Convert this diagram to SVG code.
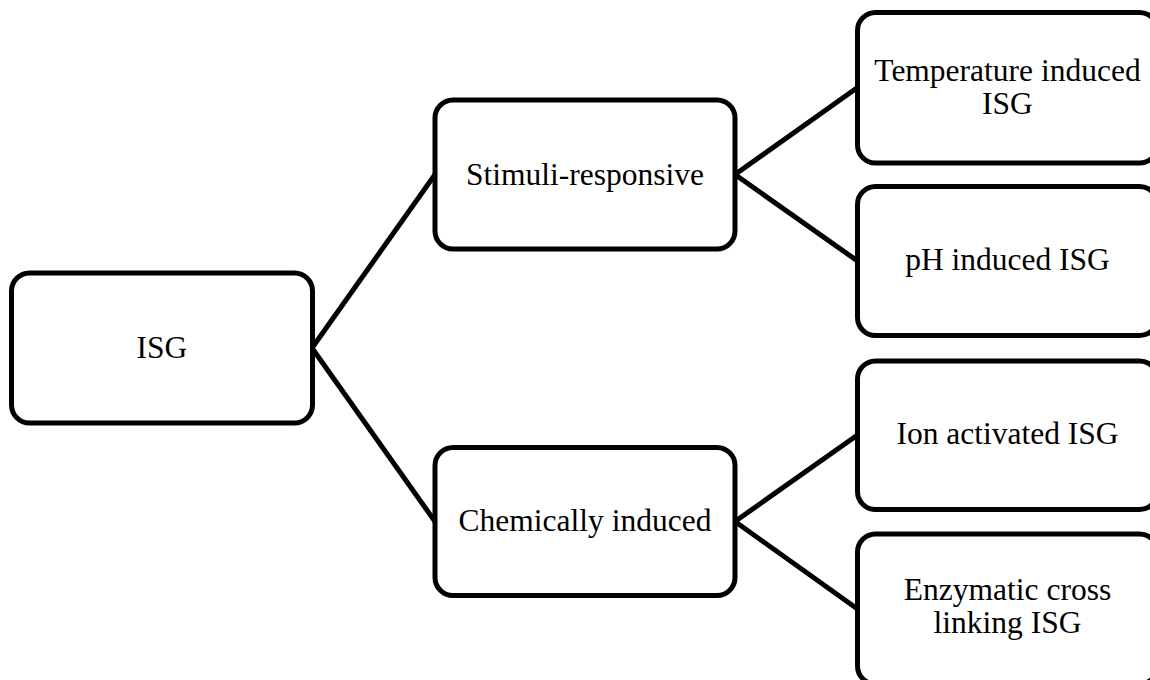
<svg xmlns="http://www.w3.org/2000/svg" width="1150" height="680" viewBox="0 0 1150 680">
<style>
.box{fill:#fff;stroke:#000;stroke-width:5}
.lbl{font-family:'Liberation Serif',serif;font-size:31.5px;fill:#000;text-anchor:middle}
.conn line{stroke:#000;stroke-width:5}
</style>
<rect width="1150" height="680" fill="#fff"/>
<g class="conn" id="connectors">
<line x1="312" y1="348" x2="435" y2="174.5"/>
<line x1="312" y1="348" x2="435" y2="521.5"/>
<line x1="735" y1="174.5" x2="857.5" y2="87.5"/>
<line x1="735" y1="174.5" x2="857.5" y2="261"/>
<line x1="735" y1="521.5" x2="857.5" y2="435"/>
<line x1="735" y1="521.5" x2="857.5" y2="609"/>
</g>
<g id="isg"><rect class="box" x="11.5" y="273" width="301" height="150" rx="18"/><text class="lbl" font-family="Liberation Serif, serif" x="162" y="358">ISG</text></g>
<g id="stimuli"><rect class="box" x="435" y="100" width="300" height="149" rx="18"/><text class="lbl" font-family="Liberation Serif, serif" x="585" y="185">Stimuli-responsive</text></g>
<g id="chemically"><rect class="box" x="435" y="447.5" width="300" height="148" rx="18"/><text class="lbl" font-family="Liberation Serif, serif" x="585" y="531">Chemically induced</text></g>
<g id="temperature"><rect class="box" x="857.5" y="12.5" width="300" height="150.5" rx="18"/><text class="lbl" font-family="Liberation Serif, serif" x="1007.5" y="81">Temperature induced</text><text class="lbl" font-family="Liberation Serif, serif" x="1007.5" y="113.5">ISG</text></g>
<g id="ph"><rect class="box" x="857.5" y="186.5" width="300" height="149" rx="18"/><text class="lbl" font-family="Liberation Serif, serif" x="1007.5" y="270">pH induced ISG</text></g>
<g id="ion"><rect class="box" x="857.5" y="361" width="300" height="148.5" rx="18"/><text class="lbl" font-family="Liberation Serif, serif" x="1007.5" y="444">Ion activated ISG</text></g>
<g id="enzymatic"><rect class="box" x="857.5" y="534" width="300" height="150" rx="18"/><text class="lbl" font-family="Liberation Serif, serif" x="1007.5" y="600">Enzymatic cross</text><text class="lbl" font-family="Liberation Serif, serif" x="1007.5" y="632.5">linking ISG</text></g>
</svg>
